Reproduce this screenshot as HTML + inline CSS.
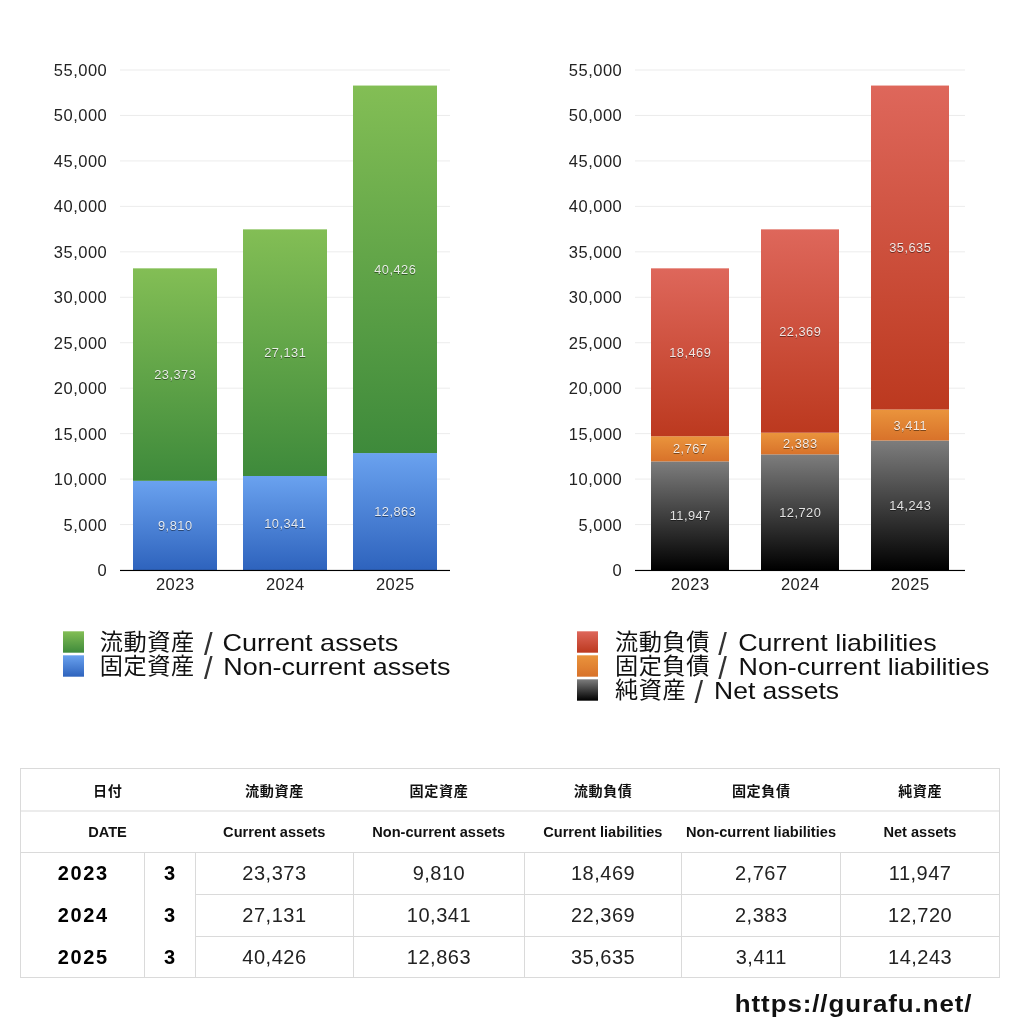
<!DOCTYPE html>
<html lang="ja"><head><meta charset="utf-8"><title>Balance sheet</title>
<style>
html,body{margin:0;padding:0;background:#fff;}
body{width:1024px;height:1024px;overflow:hidden;position:relative;font-family:"Liberation Sans","Noto Sans CJK JP",sans-serif;}
svg{position:absolute;left:0;top:0;display:block;will-change:transform;}
text{font-family:"Liberation Sans","Noto Sans CJK JP",sans-serif;}
.ax{font-size:16.5px;fill:#222;letter-spacing:.5px;}
.val{font-size:12.8px;fill:#fff;fill-opacity:.86;letter-spacing:.5px;filter:drop-shadow(0 1px 0 rgba(0,0,0,.5));}
.lg{font-size:24px;fill:#111;}
.cj{font-size:23.2px;letter-spacing:.6px;}
.sl{font-size:31px;fill:#333;}
.th{font-size:14.1px;font-weight:bold;fill:#111;letter-spacing:.6px;}
.te{font-size:14.6px;font-weight:bold;fill:#111;}
.yr{font-size:20px;font-weight:bold;fill:#000;letter-spacing:1.6px;}
.td{font-size:20px;fill:#222;letter-spacing:.5px;}
.url{font-size:24px;font-weight:bold;fill:#111;letter-spacing:.85px;}
</style></head><body>
<svg width="1024" height="1024" viewBox="0 0 1024 1024">
<defs>
<linearGradient id="gG" x1="0" y1="0" x2="0" y2="1"><stop offset="0" stop-color="#83be55"/><stop offset="1" stop-color="#3e8a3b"/></linearGradient>
<linearGradient id="gB" x1="0" y1="0" x2="0" y2="1"><stop offset="0" stop-color="#6aa2ef"/><stop offset="1" stop-color="#2e63bd"/></linearGradient>
<linearGradient id="gR" x1="0" y1="0" x2="0" y2="1"><stop offset="0" stop-color="#de675b"/><stop offset="1" stop-color="#bc391f"/></linearGradient>
<linearGradient id="gO" x1="0" y1="0" x2="0" y2="1"><stop offset="0" stop-color="#ea943c"/><stop offset="1" stop-color="#d8722a"/></linearGradient>
<linearGradient id="gK" x1="0" y1="0" x2="0" y2="1"><stop offset="0" stop-color="#7d7d7d"/><stop offset="1" stop-color="#000000"/></linearGradient>
</defs>
<rect width="1024" height="1024" fill="#fff"/>

<text class="ax" x="107.30" y="575.95" text-anchor="end">0</text>
<rect x="120" y="524.05" width="330" height="1" fill="#ececec"/>
<text class="ax" x="107.30" y="530.50" text-anchor="end">5,000</text>
<rect x="120" y="478.59" width="330" height="1" fill="#ececec"/>
<text class="ax" x="107.30" y="485.04" text-anchor="end">10,000</text>
<rect x="120" y="433.14" width="330" height="1" fill="#ececec"/>
<text class="ax" x="107.30" y="439.59" text-anchor="end">15,000</text>
<rect x="120" y="387.68" width="330" height="1" fill="#ececec"/>
<text class="ax" x="107.30" y="394.13" text-anchor="end">20,000</text>
<rect x="120" y="342.23" width="330" height="1" fill="#ececec"/>
<text class="ax" x="107.30" y="348.68" text-anchor="end">25,000</text>
<rect x="120" y="296.77" width="330" height="1" fill="#ececec"/>
<text class="ax" x="107.30" y="303.22" text-anchor="end">30,000</text>
<rect x="120" y="251.32" width="330" height="1" fill="#ececec"/>
<text class="ax" x="107.30" y="257.77" text-anchor="end">35,000</text>
<rect x="120" y="205.86" width="330" height="1" fill="#ececec"/>
<text class="ax" x="107.30" y="212.31" text-anchor="end">40,000</text>
<rect x="120" y="160.41" width="330" height="1" fill="#ececec"/>
<text class="ax" x="107.30" y="166.86" text-anchor="end">45,000</text>
<rect x="120" y="114.95" width="330" height="1" fill="#ececec"/>
<text class="ax" x="107.30" y="121.40" text-anchor="end">50,000</text>
<rect x="120" y="69.50" width="330" height="1" fill="#ececec"/>
<text class="ax" x="107.30" y="75.95" text-anchor="end">55,000</text>
<rect x="133" y="480.82" width="84" height="89.18" fill="url(#gB)"/>
<text class="val" x="175.25" y="529.91" text-anchor="middle">9,810</text>
<rect x="133" y="268.34" width="84" height="212.48" fill="url(#gG)"/>
<text class="val" x="175.25" y="379.08" text-anchor="middle">23,373</text>
<text class="ax" x="175.25" y="590.00" text-anchor="middle">2023</text>
<rect x="243" y="475.99" width="84" height="94.01" fill="url(#gB)"/>
<text class="val" x="285.25" y="527.50" text-anchor="middle">10,341</text>
<rect x="243" y="229.35" width="84" height="246.65" fill="url(#gG)"/>
<text class="val" x="285.25" y="357.17" text-anchor="middle">27,131</text>
<text class="ax" x="285.25" y="590.00" text-anchor="middle">2024</text>
<rect x="353" y="453.06" width="84" height="116.94" fill="url(#gB)"/>
<text class="val" x="395.25" y="516.03" text-anchor="middle">12,863</text>
<rect x="353" y="85.55" width="84" height="367.51" fill="url(#gG)"/>
<text class="val" x="395.25" y="273.81" text-anchor="middle">40,426</text>
<text class="ax" x="395.25" y="590.00" text-anchor="middle">2025</text>
<rect x="120" y="569.9" width="330" height="1.15" fill="#000"/>
<text class="ax" x="622.30" y="575.95" text-anchor="end">0</text>
<rect x="635" y="524.05" width="330" height="1" fill="#ececec"/>
<text class="ax" x="622.30" y="530.50" text-anchor="end">5,000</text>
<rect x="635" y="478.59" width="330" height="1" fill="#ececec"/>
<text class="ax" x="622.30" y="485.04" text-anchor="end">10,000</text>
<rect x="635" y="433.14" width="330" height="1" fill="#ececec"/>
<text class="ax" x="622.30" y="439.59" text-anchor="end">15,000</text>
<rect x="635" y="387.68" width="330" height="1" fill="#ececec"/>
<text class="ax" x="622.30" y="394.13" text-anchor="end">20,000</text>
<rect x="635" y="342.23" width="330" height="1" fill="#ececec"/>
<text class="ax" x="622.30" y="348.68" text-anchor="end">25,000</text>
<rect x="635" y="296.77" width="330" height="1" fill="#ececec"/>
<text class="ax" x="622.30" y="303.22" text-anchor="end">30,000</text>
<rect x="635" y="251.32" width="330" height="1" fill="#ececec"/>
<text class="ax" x="622.30" y="257.77" text-anchor="end">35,000</text>
<rect x="635" y="205.86" width="330" height="1" fill="#ececec"/>
<text class="ax" x="622.30" y="212.31" text-anchor="end">40,000</text>
<rect x="635" y="160.41" width="330" height="1" fill="#ececec"/>
<text class="ax" x="622.30" y="166.86" text-anchor="end">45,000</text>
<rect x="635" y="114.95" width="330" height="1" fill="#ececec"/>
<text class="ax" x="622.30" y="121.40" text-anchor="end">50,000</text>
<rect x="635" y="69.50" width="330" height="1" fill="#ececec"/>
<text class="ax" x="622.30" y="75.95" text-anchor="end">55,000</text>
<rect x="651" y="461.39" width="78" height="108.61" fill="url(#gK)"/>
<text class="val" x="690.25" y="520.20" text-anchor="middle">11,947</text>
<rect x="651" y="436.24" width="78" height="25.15" fill="url(#gO)"/>
<text class="val" x="690.25" y="453.31" text-anchor="middle">2,767</text>
<rect x="651" y="268.34" width="78" height="167.90" fill="url(#gR)"/>
<text class="val" x="690.25" y="356.79" text-anchor="middle">18,469</text>
<text class="ax" x="690.25" y="590.00" text-anchor="middle">2023</text>
<rect x="761" y="454.36" width="78" height="115.64" fill="url(#gK)"/>
<text class="val" x="800.25" y="516.68" text-anchor="middle">12,720</text>
<rect x="761" y="432.70" width="78" height="21.66" fill="url(#gO)"/>
<text class="val" x="800.25" y="448.03" text-anchor="middle">2,383</text>
<rect x="761" y="229.35" width="78" height="203.35" fill="url(#gR)"/>
<text class="val" x="800.25" y="335.52" text-anchor="middle">22,369</text>
<text class="ax" x="800.25" y="590.00" text-anchor="middle">2024</text>
<rect x="871" y="440.52" width="78" height="129.48" fill="url(#gK)"/>
<text class="val" x="910.25" y="509.76" text-anchor="middle">14,243</text>
<rect x="871" y="409.51" width="78" height="31.01" fill="url(#gO)"/>
<text class="val" x="910.25" y="429.51" text-anchor="middle">3,411</text>
<rect x="871" y="85.55" width="78" height="323.95" fill="url(#gR)"/>
<text class="val" x="910.25" y="252.03" text-anchor="middle">35,635</text>
<text class="ax" x="910.25" y="590.00" text-anchor="middle">2025</text>
<rect x="635" y="569.9" width="330" height="1.15" fill="#000"/>
<rect x="63" y="631.3" width="21" height="21.4" fill="url(#gG)"/>
<text class="lg"><tspan class="cj" x="99.7" y="649.9">流動資産</tspan><tspan class="sl" x="195.5" y="654.7"> /</tspan><tspan x="215" y="650.5" textLength="183.2" lengthAdjust="spacingAndGlyphs"> Current assets</tspan></text>
<rect x="63" y="655.3" width="21" height="21.4" fill="url(#gB)"/>
<text class="lg"><tspan class="cj" x="99.7" y="673.9">固定資産</tspan><tspan class="sl" x="195.5" y="678.7"> /</tspan><tspan x="215.8" y="674.5" textLength="234.7" lengthAdjust="spacingAndGlyphs"> Non-current assets</tspan></text>
<rect x="577" y="631.3" width="21" height="21.4" fill="url(#gR)"/>
<text class="lg"><tspan class="cj" x="614.9" y="649.9">流動負債</tspan><tspan class="sl" x="709.7" y="654.7"> /</tspan><tspan x="730.7" y="650.5" textLength="206" lengthAdjust="spacingAndGlyphs"> Current liabilities</tspan></text>
<rect x="577" y="655.3" width="21" height="21.4" fill="url(#gO)"/>
<text class="lg"><tspan class="cj" x="614.9" y="673.9">固定負債</tspan><tspan class="sl" x="709.7" y="678.7"> /</tspan><tspan x="731.1" y="674.5" textLength="258.3" lengthAdjust="spacingAndGlyphs"> Non-current liabilities</tspan></text>
<rect x="577" y="679.3" width="21" height="21.4" fill="url(#gK)"/>
<text class="lg"><tspan class="cj" x="614.9" y="697.9">純資産</tspan><tspan class="sl" x="685.9" y="702.7"> /</tspan><tspan x="706.7" y="698.5" textLength="132.4" lengthAdjust="spacingAndGlyphs"> Net assets</tspan></text>
<rect x="20.0" y="768.0" width="980.0" height="1" fill="#dadada"/>
<rect x="20.0" y="810.5" width="980.0" height="1" fill="#dadada"/>
<rect x="20.0" y="852.0" width="980.0" height="1" fill="#dadada"/>
<rect x="20.0" y="977.0" width="980.0" height="1" fill="#dadada"/>
<rect x="195.0" y="894.0" width="805.0" height="1" fill="#dadada"/>
<rect x="195.0" y="936.0" width="805.0" height="1" fill="#dadada"/>
<rect x="20.0" y="768.0" width="1" height="210.0" fill="#dadada"/>
<rect x="999.0" y="768.0" width="1" height="210.0" fill="#dadada"/>
<rect x="144.0" y="852.0" width="1" height="126.0" fill="#dadada"/>
<rect x="195.0" y="852.0" width="1" height="126.0" fill="#dadada"/>
<rect x="353.0" y="852.0" width="1" height="126.0" fill="#dadada"/>
<rect x="524.0" y="852.0" width="1" height="126.0" fill="#dadada"/>
<rect x="681.0" y="852.0" width="1" height="126.0" fill="#dadada"/>
<rect x="840.0" y="852.0" width="1" height="126.0" fill="#dadada"/>
<text class="th" x="107.80" y="795.60" text-anchor="middle">日付</text>
<text class="te" x="107.50" y="837.30" text-anchor="middle">DATE</text>
<text class="th" x="274.50" y="795.60" text-anchor="middle">流動資産</text>
<text class="te" x="274.20" y="837.30" text-anchor="middle">Current assets</text>
<text class="th" x="439.00" y="795.60" text-anchor="middle">固定資産</text>
<text class="te" x="438.70" y="837.30" text-anchor="middle">Non-current assets</text>
<text class="th" x="603.15" y="795.60" text-anchor="middle">流動負債</text>
<text class="te" x="602.85" y="837.30" text-anchor="middle">Current liabilities</text>
<text class="th" x="761.30" y="795.60" text-anchor="middle">固定負債</text>
<text class="te" x="761.00" y="837.30" text-anchor="middle">Non-current liabilities</text>
<text class="th" x="920.20" y="795.60" text-anchor="middle">純資産</text>
<text class="te" x="919.90" y="837.30" text-anchor="middle">Net assets</text>
<text class="yr" x="83.30" y="880.20" text-anchor="middle">2023</text>
<text class="yr" x="170.30" y="880.20" text-anchor="middle">3</text>
<text class="td" x="274.45" y="880.20" text-anchor="middle">23,373</text>
<text class="td" x="438.95" y="880.20" text-anchor="middle">9,810</text>
<text class="td" x="603.10" y="880.20" text-anchor="middle">18,469</text>
<text class="td" x="761.25" y="880.20" text-anchor="middle">2,767</text>
<text class="td" x="920.15" y="880.20" text-anchor="middle">11,947</text>
<text class="yr" x="83.30" y="922.20" text-anchor="middle">2024</text>
<text class="yr" x="170.30" y="922.20" text-anchor="middle">3</text>
<text class="td" x="274.45" y="922.20" text-anchor="middle">27,131</text>
<text class="td" x="438.95" y="922.20" text-anchor="middle">10,341</text>
<text class="td" x="603.10" y="922.20" text-anchor="middle">22,369</text>
<text class="td" x="761.25" y="922.20" text-anchor="middle">2,383</text>
<text class="td" x="920.15" y="922.20" text-anchor="middle">12,720</text>
<text class="yr" x="83.30" y="963.80" text-anchor="middle">2025</text>
<text class="yr" x="170.30" y="963.80" text-anchor="middle">3</text>
<text class="td" x="274.45" y="963.80" text-anchor="middle">40,426</text>
<text class="td" x="438.95" y="963.80" text-anchor="middle">12,863</text>
<text class="td" x="603.10" y="963.80" text-anchor="middle">35,635</text>
<text class="td" x="761.25" y="963.80" text-anchor="middle">3,411</text>
<text class="td" x="920.15" y="963.80" text-anchor="middle">14,243</text>
<text class="url" transform="translate(734.80 1012.40) scale(1.08 1)">https://gurafu.net/</text>
</svg></body></html>
